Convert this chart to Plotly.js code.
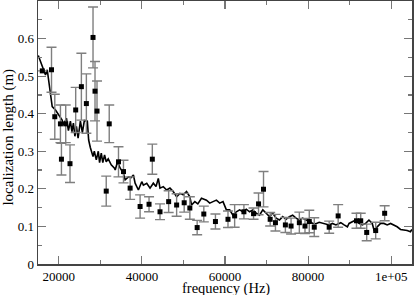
<!DOCTYPE html>
<html>
<head>
<meta charset="utf-8">
<script src="https://cdn.plot.ly/plotly-3.0.1.min.js"></script>
<style>html,body{margin:0;padding:0;background:#fff;}#chart{width:415px;height:295px;}</style>
</head>
<body>
<div id="chart"></div>
<script>
// simulated curve (solid line)
var lineFreq = [15070,16030,16810,17220,17600,18010,18420,19210,20000,20810,21130,21840,22320,22800,23160,23520,23880,24240,24650,24960,25200,25680,26160,26870,27190,27590,28240,28550,29030,29510,29820,30230,30590,31020,31420,31900,32620,33410,33580,34130,34780,35570,35970,36770,37420,37960,38370,39160,39970,40360,41170,41960,42750,43400,43950,44360,45150,45960,46750,47540,48360,49150,49940,50750,51540,51950,52740,53460,54340,55540,56330,57120,57940,58730,59520,60330,61120,61910,62730,63520,64310,65120,65910,66700,67520,68310,69100,69910,70700,71490,72310,73100,73890,74700,75490,76280,77100,77890,78680,79490,80280,81070,81890,82680,83470,84280,85070,85860,86680,87470,87870,88660,89450,89860,90650,91460,92250,93040,93850,94640,95430,95840,96630,97440,98230,99030,99840,100630,101430,102240,103030,103830,104640,104970];
var lineLen = [0.555,0.525,0.503,0.517,0.486,0.446,0.419,0.41,0.397,0.383,0.37,0.388,0.355,0.38,0.352,0.375,0.34,0.366,0.335,0.36,0.38,0.35,0.382,0.38,0.33,0.31,0.286,0.3,0.277,0.3,0.27,0.295,0.27,0.29,0.272,0.28,0.264,0.255,0.25,0.272,0.255,0.241,0.224,0.232,0.23,0.237,0.215,0.197,0.219,0.21,0.215,0.202,0.215,0.206,0.228,0.202,0.206,0.197,0.202,0.193,0.179,0.188,0.184,0.193,0.179,0.157,0.166,0.16,0.175,0.17,0.162,0.166,0.17,0.162,0.166,0.144,0.144,0.13,0.139,0.144,0.139,0.146,0.139,0.144,0.135,0.13,0.144,0.135,0.126,0.135,0.122,0.117,0.126,0.119,0.126,0.13,0.122,0.117,0.122,0.117,0.115,0.108,0.107,0.111,0.108,0.107,0.104,0.108,0.104,0.108,0.11,0.104,0.099,0.108,0.113,0.117,0.108,0.104,0.108,0.117,0.108,0.091,0.099,0.108,0.108,0.104,0.108,0.104,0.099,0.092,0.091,0.089,0.086,0.092];

// measured points with error bars
var measFreq = [16030,18250,19040,20400,21670,20640,22700,24070,25440,26640,28240,28720,29200,31420,32140,34370,35570,37170,39570,41720,42510,44360,46440,48360,50180,51540,53300,54900,57700,60720,62320,64550,66870,68070,69270,70870,72140,74530,75900,77890,79250,80280,81480,85070,87230,91640,92660,94100,96260,98420];
var measLen = [0.514,0.517,0.392,0.373,0.373,0.279,0.267,0.41,0.472,0.427,0.603,0.46,0.407,0.194,0.373,0.272,0.246,0.202,0.153,0.159,0.279,0.139,0.166,0.157,0.163,0.149,0.097,0.133,0.113,0.119,0.128,0.139,0.134,0.16,0.199,0.119,0.11,0.104,0.101,0.11,0.101,0.113,0.098,0.098,0.128,0.115,0.115,0.084,0.089,0.135];
var measErr = [0,0.06,0.06,0.05,0.05,0.042,0.05,0.06,0.089,0.079,0.081,0.079,0.08,0.04,0.05,0.04,0.03,0.03,0.031,0.02,0.04,0.021,0.029,0.03,0.025,0.03,0.019,0.021,0.02,0.022,0.03,0.019,0.015,0.029,0.047,0.018,0.022,0.02,0.021,0.028,0.02,0.03,0.025,0.016,0.03,0.02,0.02,0.022,0.022,0.02];

var xTickVals = [20000,40000,60000,80000,100000];
var xTickText = ['20000','40000','60000','80000','1e+05'];
var xMinorVals = [30000,50000,70000,90000];
var yTickVals = [0,0.1,0.2,0.3,0.4,0.5,0.6];
var yTickText = ['0','0.1','0.2','0.3','0.4','0.5','0.6'];
var yMinorVals = [0.05,0.15,0.25,0.35,0.45,0.55,0.65];
var xTitle = 'frequency (Hz)';
var yTitle = 'localization length (m)';

var serif = 'Liberation Serif, Times New Roman, serif';

var traces = [
  {x: lineFreq, y: lineLen, type: 'scatter', mode: 'lines',
   line: {color: '#000', width: 1.6}, hoverinfo: 'skip'},
  {x: measFreq, y: measLen, type: 'scatter', mode: 'markers',
   marker: {symbol: 'square', size: 5, color: '#000'},
   error_y: {type: 'data', array: measErr, visible: true, color: '#7f7f7f', thickness: 1.4, width: 5}}
];

var axisCommon = {
  showgrid: false, zeroline: false, showline: true, linecolor: '#444', linewidth: 1.5,
  mirror: 'ticks', ticks: 'inside', ticklen: 8, tickwidth: 1.2, tickcolor: '#777',
  tickfont: {family: serif, size: 13, color: '#000'}
};

var layout = {
  width: 415, height: 295,
  margin: {l: 38, r: 3, t: 1, b: 31},
  paper_bgcolor: '#fff', plot_bgcolor: '#fff',
  showlegend: false,
  xaxis: Object.assign({}, axisCommon, {
    range: [15000, 105000], tickmode: 'array', tickvals: xTickVals, ticktext: xTickText,
    minor: {tickmode: 'array', tickvals: xMinorVals, ticks: 'inside', ticklen: 4, tickcolor: '#777', tickwidth: 1.2}
  }),
  yaxis: Object.assign({}, axisCommon, {
    range: [0, 0.7], tickmode: 'array', tickvals: yTickVals, ticktext: yTickText,
    minor: {tickmode: 'array', tickvals: yMinorVals, ticks: 'inside', ticklen: 4, tickcolor: '#777', tickwidth: 1.2}
  }),
  annotations: [
    {text: xTitle, xref: 'paper', yref: 'paper', x: 0.503, y: -0.094, xanchor: 'center', yanchor: 'middle',
     showarrow: false, font: {family: serif, size: 14.5, color: '#000'}},
    {text: yTitle, xref: 'paper', yref: 'paper', x: -0.08, y: 0.481, xanchor: 'center', yanchor: 'middle',
     textangle: -90, showarrow: false, font: {family: serif, size: 15, color: '#000'}}
  ]
};

Plotly.newPlot('chart', traces, layout, {displayModeBar: false, staticPlot: true});
</script>
</body>
</html>
